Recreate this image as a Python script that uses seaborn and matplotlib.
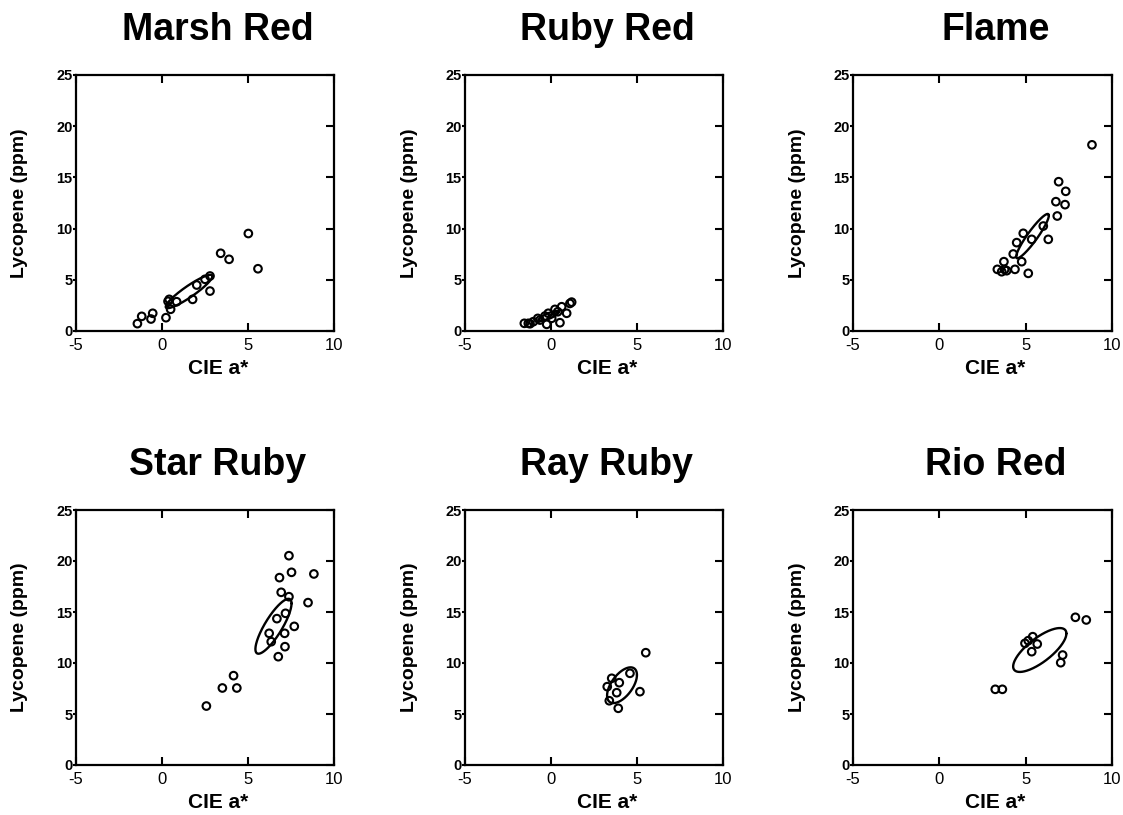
import numpy as np
import pandas as pd
import seaborn as sns
import matplotlib.pyplot as plt

# data: CIE a* (x) vs lycopene ppm (y) per cultivar
cultivars = ["Marsh Red", "Ruby Red", "Flame", "Star Ruby", "Ray Ruby", "Rio Red"]

marsh_x = [-1.43, -1.18, -0.64, -0.54, 0.23, 0.42, 0.35, 0.50, 0.85, 1.78, 2.02, 2.50, 2.79,
           2.79, 3.41, 3.90, 5.02, 5.58]
marsh_y = [0.72, 1.43, 1.17, 1.73, 1.30, 3.09, 2.90, 2.12, 2.86, 3.09, 4.49, 5.05, 5.37,
           3.90, 7.59, 7.00, 9.52, 6.08]

ruby_x = [-1.55, -1.32, -1.22, -1.03, -0.77, -0.64, -0.35, -0.25, -0.16, 0.04, 0.23, 0.39,
          0.52, 0.62, 0.91, 1.10, 1.20]
ruby_y = [0.75, 0.75, 0.71, 0.91, 1.23, 1.07, 1.46, 0.65, 1.73, 1.24, 2.11, 1.88,
          0.81, 2.37, 1.73, 2.69, 2.82]

flame_x = [3.36, 3.61, 3.78, 3.90, 3.74, 4.38, 4.28, 4.77, 5.15, 4.48, 4.86, 5.35, 6.02,
           6.31, 6.83, 6.75, 7.28, 6.91, 7.32, 8.84]
flame_y = [6.02, 5.79, 6.01, 5.89, 6.77, 6.02, 7.52, 6.77, 5.63, 8.63, 9.54, 8.95, 10.25,
           8.95, 11.23, 12.63, 12.34, 14.58, 13.64, 18.18]

star_x = [2.58, 3.51, 4.16, 4.35, 7.38, 6.83, 7.53, 8.83, 6.93, 7.38, 8.49, 7.18, 6.68,
          7.69, 6.23, 7.13, 6.35, 7.15, 6.76]
star_y = [5.78, 7.55, 8.76, 7.55, 20.52, 18.37, 18.89, 18.73, 16.93, 16.50, 15.92, 14.87,
          14.35, 13.59, 12.91, 12.91, 12.09, 11.60, 10.62]

ray_x = [3.53, 3.27, 3.97, 4.59, 3.82, 3.39, 3.91, 5.17, 5.51]
ray_y = [8.50, 7.68, 8.07, 8.99, 7.09, 6.30, 5.56, 7.19, 11.01]

rio_x = [3.24, 3.65, 4.96, 5.15, 5.41, 5.67, 5.35, 7.14, 7.03, 7.88, 8.51]
rio_y = [7.42, 7.42, 11.93, 12.19, 12.58, 11.86, 11.11, 10.78, 10.03, 14.48, 14.22]

xs = [marsh_x, ruby_x, flame_x, star_x, ray_x, rio_x]
ys = [marsh_y, ruby_y, flame_y, star_y, ray_y, rio_y]

x_ticks = [-5, 0, 5, 10]
y_ticks = [0, 5, 10, 15, 20, 25]


def mean_ellipse(x, y, level=0.95, npts=300):
    # Hotelling T^2 confidence region of the mean
    pts = np.column_stack([x, y])
    n = len(pts)
    mu = pts.mean(axis=0)
    cov = np.cov(pts, rowvar=False) / n
    m = n - 2
    f = (m / 2) * ((1 - level) ** (-2 / m) - 1)
    t2 = 2 * (n - 1) / (n - 2) * f
    L = np.linalg.cholesky(cov)
    t = np.linspace(0, 2 * np.pi, npts)
    e = mu[:, None] + L @ (np.vstack([np.cos(t), np.sin(t)]) * np.sqrt(t2))
    return e[0], e[1]


sns.set_style("white")
plt.rcParams["font.family"] = ["Liberation Sans", "DejaVu Sans"]
plt.rcParams["text.color"] = "black"
plt.rcParams["axes.labelcolor"] = "black"
plt.rcParams["xtick.color"] = "black"
plt.rcParams["ytick.color"] = "black"

W, H = 1123, 815
fig = plt.figure(figsize=(W / 100, H / 100), dpi=100)

lefts = [76, 465, 853]
widths = [258, 258, 259]
tops = [75, 510]
heights = [256, 255]

for i, name in enumerate(cultivars):
    r, c = divmod(i, 3)
    ax = fig.add_axes([lefts[c] / W, 1 - (tops[r] + heights[r]) / H,
                       widths[c] / W, heights[r] / H])
    df = pd.DataFrame({"a": xs[i], "lyc": ys[i]})
    sns.scatterplot(data=df, x="a", y="lyc", ax=ax, marker="o", s=30,
                    facecolors="none", edgecolor="black", linewidth=1.5,
                    legend=False, zorder=3)
    ex, ey = mean_ellipse(df["a"].values, df["lyc"].values)
    ax.plot(ex, ey, color="black", lw=1.7, zorder=2)

    ax.set_xlim(-5, 10)
    ax.set_ylim(0, 25)
    ax.set_xticks(x_ticks, labels=[str(v) for v in x_ticks], fontsize=12)
    ax.set_yticks(y_ticks, labels=[str(v) for v in y_ticks], fontsize=10.5,
                  fontweight="bold", va="center_baseline")
    ax.tick_params(axis="x", direction="in", top=True, bottom=True,
                   length=6, width=1.5, pad=5, colors="black")
    ax.tick_params(axis="y", direction="out", left=True, right=False,
                   length=2.5, width=1.5, pad=0, colors="black")
    sec = ax.secondary_yaxis("right")
    sec.set_yticks(y_ticks, labels=[])
    sec.tick_params(direction="in", length=6, width=1.5, colors="black")
    sec.spines["right"].set_visible(False)
    for sp in ax.spines.values():
        sp.set_linewidth(1.6)
        sp.set_color("black")

    ax.set_xlabel("")
    ax.set_ylabel("")
    ax.text(0.55, 1 + 45 / heights[r], name, transform=ax.transAxes,
            ha="center", va="center", fontsize=27, fontweight="bold")
    ax.text(0.55, -38 / heights[r], "CIE a*", transform=ax.transAxes,
            ha="center", va="center", fontsize=15, fontweight="bold")
    ax.text(-56 / widths[c], 0.5, "Lycopene (ppm)", transform=ax.transAxes,
            ha="center", va="center", rotation=90, fontsize=14, fontweight="bold")

fig.savefig("out.png", dpi=100)
